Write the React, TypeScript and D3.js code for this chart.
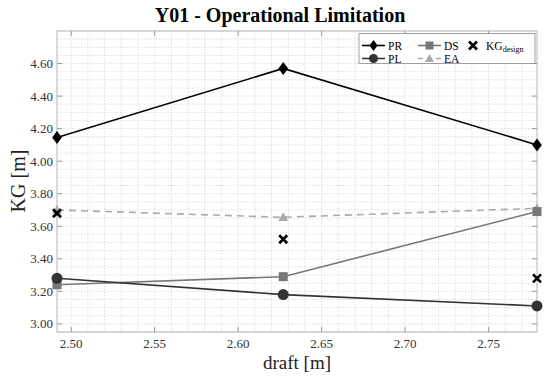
import React from "react";
import * as d3 from "d3";

const drafts = [2.4915, 2.627, 2.779];
const PR = [4.145, 4.57, 4.1];
const PL = [3.28, 3.18, 3.11];
const DS = [3.24, 3.29, 3.69];
const EA = [3.7, 3.655, 3.71];
const KG = [3.68, 3.52, 3.28];
const xTicks = [2.5, 2.55, 2.6, 2.65, 2.7, 2.75];
const yTicks = [3.0, 3.2, 3.4, 3.6, 3.8, 4.0, 4.2, 4.4, 4.6];

const W = 550, H = 377;
const L = 57, R = 537, T = 31, B = 332;

export default function App() {
  const x = d3.scaleLinear().domain([2.4915, 2.779]).range([L, R]);
  const y = d3.scaleLinear().domain([2.95, 4.8]).range([B, T]);
  const line = (vals: number[]) =>
    d3.line<number>().x((_, i) => x(drafts[i])).y((v) => y(v))(vals) || "";

  const xMinor = d3.range(2.5, 2.78, 0.01).map((v) => +v.toFixed(3));
  const yMinor = d3.range(2.95, 4.8001, 0.05).map((v) => +v.toFixed(3));
  const serif = "Liberation Serif, DejaVu Serif, serif";

  const diamond = (cx: number, cy: number, s: number, fill: string, k: string) => (
    <path key={k} d={`M${cx},${cy - s}L${cx + s * 0.75},${cy}L${cx},${cy + s}L${cx - s * 0.75},${cy}Z`} fill={fill} />
  );
  const square = (cx: number, cy: number, s: number, fill: string, k: string) => (
    <rect key={k} x={cx - s} y={cy - s} width={2 * s} height={2 * s} fill={fill} />
  );
  const tri = (cx: number, cy: number, s: number, fill: string, k: string) => (
    <path key={k} d={`M${cx},${cy - s}L${cx + s},${cy + s * 0.75}L${cx - s},${cy + s * 0.75}Z`} fill={fill} />
  );
  const cross = (cx: number, cy: number, s: number, k: string) => (
    <path key={k} d={`M${cx - s},${cy - s}L${cx + s},${cy + s}M${cx - s},${cy + s}L${cx + s},${cy - s}`} stroke="#000" strokeWidth={2.6} />
  );

  const cPR = "#000000", cPL = "#333333", cDS = "#777777", cEA = "#aaaaaa";
  const r1 = 45.5, r2 = 58.5;

  return (
    <svg width={W} height={H} style={{ display: "block", position: "absolute", left: 0, top: 0 }} fontFamily={serif}>
      <rect x={0} y={0} width={W} height={H} fill="#fff" />
      <defs>
        <clipPath id="plot">
          <rect x={L - 8} y={T - 8} width={R - L + 16} height={B - T + 16} />
        </clipPath>
      </defs>
      {xMinor.map((v, i) => (
        <line key={"gx" + i} x1={x(v)} x2={x(v)} y1={T} y2={B} stroke="#d6d6d6" strokeWidth={0.8} strokeDasharray="1.5,1.5" />
      ))}
      {yMinor.map((v, i) => (
        <line key={"gy" + i} x1={L} x2={R} y1={y(v)} y2={y(v)} stroke="#d6d6d6" strokeWidth={0.8} strokeDasharray="1.5,1.5" />
      ))}
      <rect x={L} y={T} width={R - L} height={B - T} fill="none" stroke="#b5b5b5" strokeWidth={1} />
      {xTicks.map((v, i) => (
        <g key={"xt" + i}>
          <line x1={x(v)} x2={x(v)} y1={B} y2={B - 5} stroke="#999" />
          <line x1={x(v)} x2={x(v)} y1={T} y2={T + 5} stroke="#999" />
          <text x={x(v)} y={B + 16} textAnchor="middle" fontSize={13} fill="#333">{v.toFixed(2)}</text>
        </g>
      ))}
      {yTicks.map((v, i) => (
        <g key={"yt" + i}>
          <line x1={L} x2={L + 5} y1={y(v)} y2={y(v)} stroke="#999" />
          <line x1={R} x2={R - 5} y1={y(v)} y2={y(v)} stroke="#999" />
          <text x={L - 4} y={y(v) + 4.5} textAnchor="end" fontSize={13} fill="#333">{v.toFixed(2)}</text>
        </g>
      ))}
      <g clipPath="url(#plot)">
        <path d={line(EA)} fill="none" stroke={cEA} strokeWidth={1.6} strokeDasharray="7,5" />
        <path d={line(DS)} fill="none" stroke={cDS} strokeWidth={1.6} />
        <path d={line(PL)} fill="none" stroke={cPL} strokeWidth={1.6} />
        <path d={line(PR)} fill="none" stroke={cPR} strokeWidth={1.6} />
        {EA.map((v, i) => tri(x(drafts[i]), y(v), 5, cEA, "ea" + i))}
        {DS.map((v, i) => square(x(drafts[i]), y(v), 4.5, cDS, "ds" + i))}
        {PL.map((v, i) => (
          <circle key={"pl" + i} cx={x(drafts[i])} cy={y(v)} r={5.5} fill={cPL} />
        ))}
        {PR.map((v, i) => diamond(x(drafts[i]), y(v), 6.5, cPR, "pr" + i))}
        {KG.map((v, i) => cross(x(drafts[i]), y(v), 4, "kg" + i))}
      </g>
      <g>
        <rect x={359} y={33.5} width={176} height={30} fill="#fff" stroke="#888" strokeWidth={0.8} />
        <line x1={362} x2={385} y1={r1} y2={r1} stroke={cPR} strokeWidth={1.6} />
        {diamond(373.5, r1, 5.5, cPR, "lpr")}
        <text x={388} y={r1 + 4} fontSize={11.5}>PR</text>
        <line x1={362} x2={385} y1={r2} y2={r2} stroke={cPL} strokeWidth={1.6} />
        <circle cx={373.5} cy={r2} r={4.5} fill={cPL} />
        <text x={388} y={r2 + 4} fontSize={11.5}>PL</text>
        <line x1={418} x2={441} y1={r1} y2={r1} stroke={cDS} strokeWidth={1.6} />
        {square(429.5, r1, 4, cDS, "lds")}
        <text x={444} y={r1 + 4} fontSize={11.5}>DS</text>
        <line x1={418} x2={441} y1={r2} y2={r2} stroke={cEA} strokeWidth={1.6} strokeDasharray="5,4" />
        {tri(429.5, r2, 4.5, cEA, "lea")}
        <text x={444} y={r2 + 4} fontSize={11.5}>EA</text>
        {cross(473, r1, 4, "lkg")}
        <text x={486} y={r1 + 4} fontSize={11.5}>KG<tspan fontSize={8} dy={2.5}>design</tspan></text>
      </g>
      <text x={280} y={22} textAnchor="middle" fontSize={20} fontWeight="bold">Y01 - Operational Limitation</text>
      <text x={297} y={369} textAnchor="middle" fontSize={19} fill="#222">draft [m]</text>
      <text transform={`translate(25,181) rotate(-90)`} textAnchor="middle" fontSize={20} fill="#222">KG [m]</text>
    </svg>
  );
}
